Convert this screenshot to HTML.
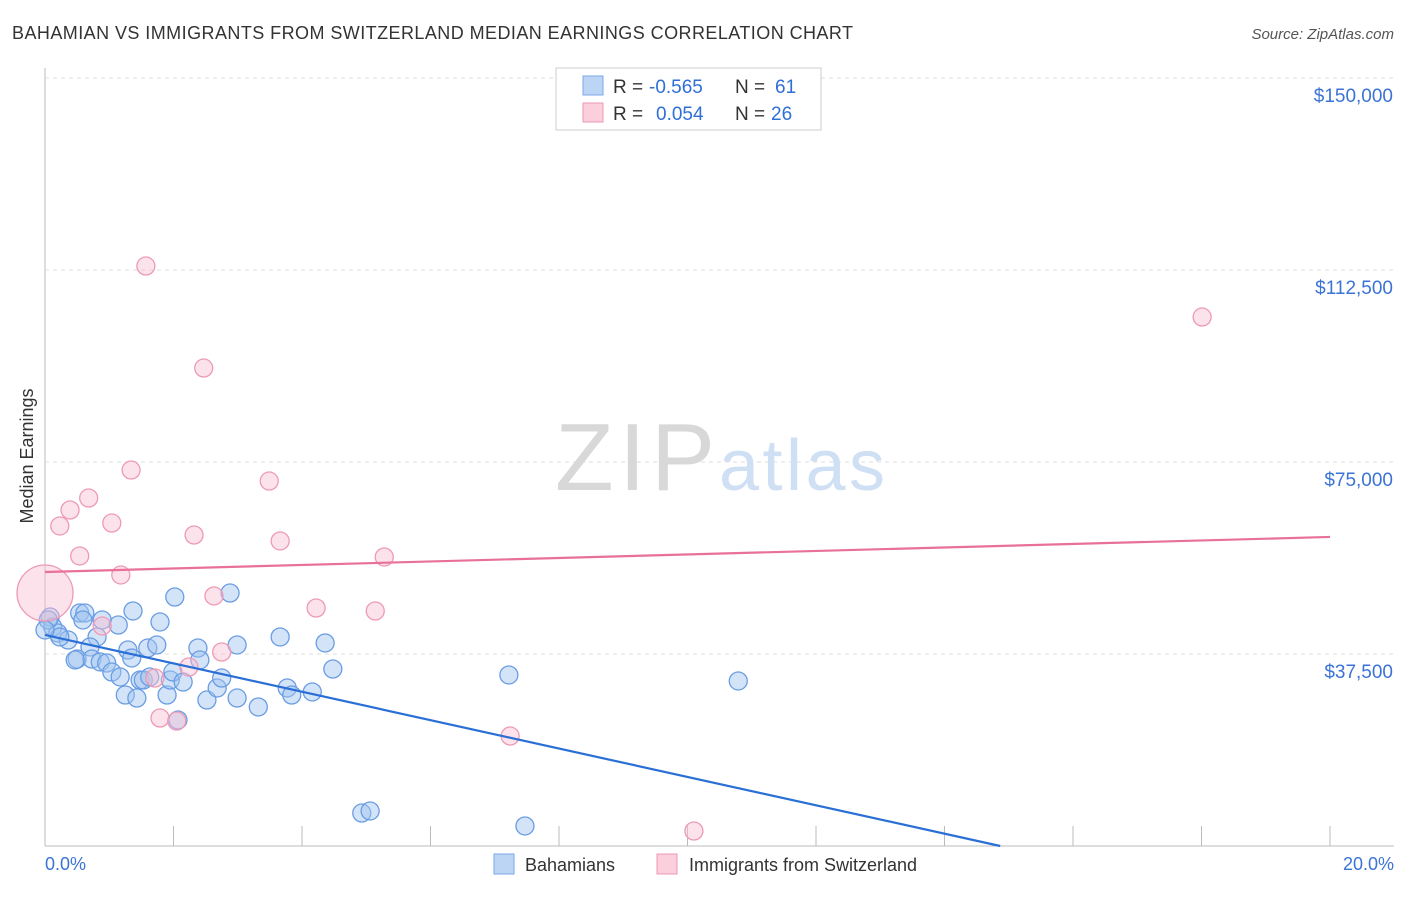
<!DOCTYPE html>
<html><head><meta charset="utf-8"><style>
body{margin:0;background:#fff;font-family:"Liberation Sans",sans-serif;}
svg text{font-family:"Liberation Sans",sans-serif;}
</style></head><body>
<svg id="c" width="1406" height="892">
<text x="12" y="39" font-size="18" fill="#333" textLength="841">BAHAMIAN VS IMMIGRANTS FROM SWITZERLAND MEDIAN EARNINGS CORRELATION CHART</text>
<text x="1394" y="39" font-size="15" fill="#555" font-style="italic" text-anchor="end">Source: ZipAtlas.com</text>
<text x="33" y="456" font-size="18" fill="#333" text-anchor="middle" transform="rotate(-90 33 456)">Median Earnings</text>
<g id="grid"></g>
<text x="555" y="490" font-size="96" fill="#d8d8d8" textLength="160" font-family="Liberation Serif">ZIP</text>
<text x="719" y="490" font-size="72" fill="#cfe0f5" textLength="166">atlas</text>
<g id="pts"></g>
<g id="lines"></g>
<rect x="556" y="68" width="265" height="62" fill="#fff" stroke="#ccc"/>
<rect x="583" y="76" width="20" height="19" fill="#bcd5f5" stroke="#7aa7e6"/>
<rect x="583" y="103" width="20" height="19" fill="#fbcfdc" stroke="#ee9ab5"/>
<g font-size="19">
<text x="613" y="93" fill="#333">R =</text><text x="649" y="93" fill="#2f6fd6">-0.565</text>
<text x="735" y="93" fill="#333">N =</text><text x="775" y="93" fill="#2f6fd6">61</text>
<text x="613" y="120" fill="#333">R =</text><text x="656" y="120" fill="#2f6fd6">0.054</text>
<text x="735" y="120" fill="#333">N =</text><text x="771" y="120" fill="#2f6fd6">26</text>
</g>
<text x="45" y="870" font-size="18" fill="#3b73d6">0.0%</text>
<text x="1394" y="870" font-size="18" fill="#3b73d6" text-anchor="end">20.0%</text>
<rect x="494" y="854" width="20" height="20" fill="#bcd5f5" stroke="#7aa7e6"/>
<text x="525" y="871" font-size="18" fill="#333">Bahamians</text>
<rect x="657" y="854" width="20" height="20" fill="#fbcfdc" stroke="#ee9ab5"/>
<text x="689" y="871" font-size="18" fill="#333">Immigrants from Switzerland</text>
</svg>
<script>
const yTicks=[37500,75000,112500,150000];
const yTickLabels=["$37,500","$75,000","$112,500","$150,000"];
const xTicks=[0,2,4,6,8,10,12,14,16,18,20];
const blueX=[0.08,0.12,0.20,0.36,0.54,0.62,0.59,0.89,1.14,1.37,0.81,0.70,0.50,0.73,0.86,0.96,1.04,1.17,1.25,1.43,1.29,1.35,1.60,1.74,1.79,2.02,1.48,1.53,1.63,1.90,1.95,1.99,2.15,2.38,2.41,2.52,2.68,2.75,2.99,2.99,2.88,3.32,3.66,3.77,3.84,4.16,4.36,4.48,2.07,4.93,5.06,7.47,7.22,10.79,0.05,0.23,0.47,0];
const blueY=[44720,42770,41600,40230,45500,45500,44140,44140,43160,45900,40820,38870,36520,36520,35940,35740,33980,33010,29490,28900,38280,36720,38670,39260,43750,48630,32420,32420,33010,29490,32420,33980,32030,38670,36330,28510,30860,32810,28900,39260,49410,27150,40820,30860,29490,30080,39650,34570,24610,6440,6840,3910,33400,32230,44140,40820,36330,42190];
const pinkX=[1.57,2.47,18.01,1.34,3.49,0.68,0.39,1.04,0.23,2.32,3.66,0.54,5.28,1.18,0,2.63,4.22,5.14,0.89,2.24,2.75,1.71,1.79,2.05,7.24,10.10];
const pinkY=[113270,93350,103310,73430,71280,67960,65620,63080,62500,60740,59570,56640,56440,52930,49410,48830,46480,45900,42970,34960,37890,32810,25000,24410,21480,2930];
const pinkR=[9,9,9,9,9,9,9,9,9,9,9,9,9,9,28,9,9,9,9,9,9,9,9,9,9,9];
const blueTrend=[41211,-2772];
const pinkTrend=[53516,342];
const NS="http://www.w3.org/2000/svg";
const X=v=>45+v*64.25, Y=v=>846-v/195.3;
function mk(t,a,p){const e=document.createElementNS(NS,t);for(const k in a)e.setAttribute(k,a[k]);p.appendChild(e);return e;}
const g=document.getElementById('grid');
const ax=mk('line',{x1:45,y1:68,x2:45,y2:846,stroke:'#bbb'},g);


const bx=mk('line',{x1:45,y1:846,x2:1394,y2:846,stroke:'#bbb'},g);


yTicks.forEach((t,i)=>{
 const l=mk('line',{x1:45,x2:1394,y1:Y(t),y2:Y(t),stroke:'#ddd','stroke-dasharray':'4,4'},g);
 
 
 const tx=mk('text',{x:1393,y:Y(t)+24,'font-size':19,fill:'#3b73d6','text-anchor':'end'},g);
 tx.textContent=yTickLabels[i];
 
 
});
xTicks.forEach(t=>{
 const l=mk('line',{x1:X(t),x2:X(t),y1:826,y2:846,stroke:'#bbb'},g);
 
 
});
const p=document.getElementById('pts');
blueX.forEach((x,i)=>{
 const c=mk('circle',{cx:X(x),cy:Y(blueY[i]),r:9,fill:'rgba(160,195,240,0.45)',stroke:'#6a9de3','stroke-width':1.3},p);
 
 
});
pinkX.forEach((x,i)=>{
 const c=mk('circle',{cx:X(x),cy:Y(pinkY[i]),r:pinkR[i],fill:'rgba(248,190,208,0.45)',stroke:'#ee9ab5','stroke-width':1.3},p);
 
 
});
const L=document.getElementById('lines');
const bEnd=-blueTrend[0]/blueTrend[1];
const bl=mk('line',{x1:X(0),y1:Y(blueTrend[0]),x2:X(bEnd),y2:Y(0),stroke:'#2a6fd6','stroke-width':2.2},L);


const pl=mk('line',{x1:X(0),y1:Y(pinkTrend[0]),x2:X(20),y2:Y(pinkTrend[0]+20*pinkTrend[1]),stroke:'#e8709a','stroke-width':2.2},L);


</script>
</body></html>
